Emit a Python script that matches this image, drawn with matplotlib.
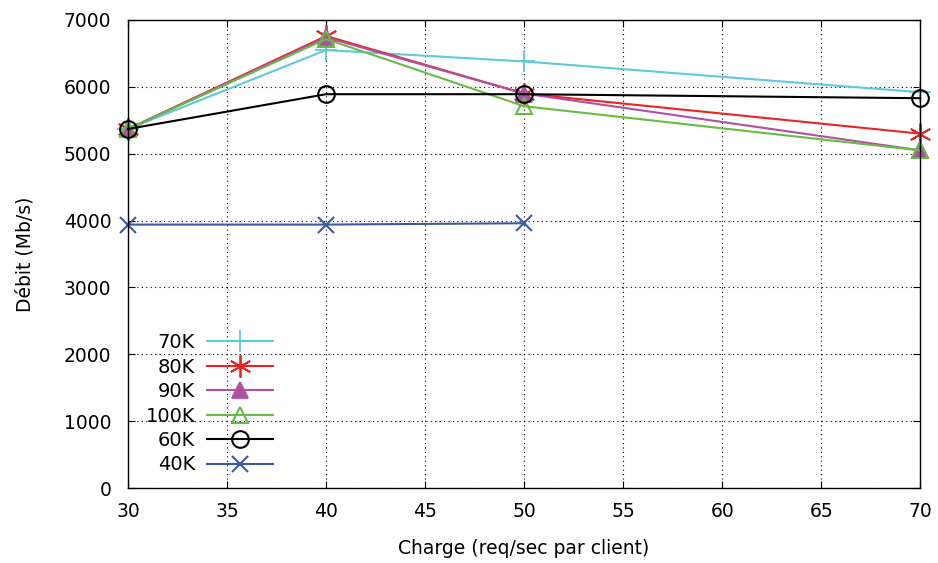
import matplotlib.pyplot as plt

charge = [30, 40, 50, 70]
charge_40k = [30, 40, 50]

debit_70k = [5370, 6550, 6380, 5920]
debit_80k = [5370, 6760, 5900, 5300]
debit_90k = [5370, 6740, 5900, 5050]
debit_100k = [5370, 6715, 5710, 5050]
debit_60k = [5370, 5890, 5890, 5830]
debit_40k = [3940, 3940, 3960]

fig = plt.figure(figsize=(9.38, 5.63), dpi=100)
ax = fig.add_axes([0.1365, 0.1332, 0.8445, 0.8313])

opts = dict(lw=1.5, clip_on=False)
ax.plot(charge, debit_70k, color='#5fc8da', marker='+', ms=16, mew=1.3, label='70K', **opts)
ax.plot(charge, debit_80k, color='#ee2222', marker=(6, 2, 0), ms=16, mew=1.3, label='80K', **opts)
ax.plot(charge, debit_90k, color='#b050a0', marker='^', ms=12, mew=1.3, label='90K', **opts)
ax.plot(charge, debit_100k, color='#66bb44', marker='^', ms=12, mfc='none', mew=1.5, label='100K', **opts)
ax.plot(charge, debit_60k, color='black', marker='o', ms=12, mfc='none', mew=1.5, label='60K', **opts)
ax.plot(charge_40k, debit_40k, color='#3a5aa5', marker='x', ms=12, mew=1.5, label='40K', **opts)

ax.set_xlim(30, 70)
ax.set_ylim(0, 7000)
ax.set_xticks(range(30, 71, 5))
ax.set_yticks(range(0, 7001, 1000))
ax.grid(True, color='black', linestyle=(0, (1, 3)), linewidth=0.8)
ax.set_axisbelow(True)
ax.tick_params(direction='in', top=True, right=True, labelsize=13.5, length=5)
ax.tick_params(axis='x', pad=10)
ax.tick_params(axis='y', pad=12)
for s in ax.spines.values():
    s.set_linewidth(1.0)

ax.set_xlabel('Charge (req/sec par client)', fontsize=13.5, labelpad=13)
ax.set_ylabel('Débit (Mb/s)', fontsize=13.5, labelpad=21)

leg = ax.legend(loc='lower left', bbox_to_anchor=(0.005, 0.0), markerfirst=False,
                frameon=False, fontsize=14, handlelength=3.4, labelspacing=0.28,
                handletextpad=0.6, borderaxespad=0.3)
for t in leg.get_texts():
    t.set_ha('right')
    t.set_position((0, 0))

fig.savefig('out.png', dpi=100)
